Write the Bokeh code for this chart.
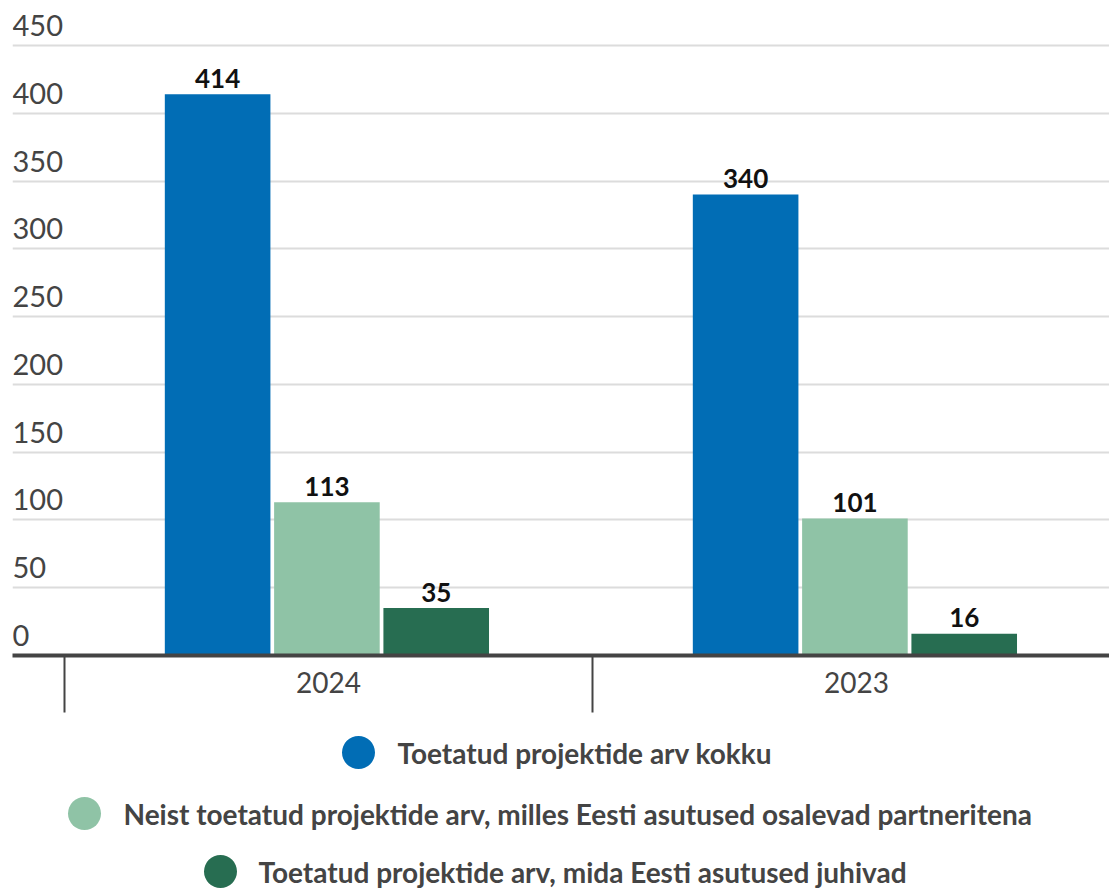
import numpy as np
from bokeh.plotting import figure
from bokeh.models import ColumnDataSource, FixedTicker, Range1d
from bokeh.layouts import column
from bokeh.core.properties import value
from bokeh.embed import file_html
from bokeh.resources import INLINE

# ---- data ----
categories = ["2024", "2023"]
series_names = [
    "Toetatud projektide arv kokku",
    "Neist toetatud projektide arv, milles Eesti asutused osalevad partneritena",
    "Toetatud projektide arv, mida Eesti asutused juhivad",
]
total_projects = [414, 340]
partner_projects = [113, 101]
lead_projects = [35, 16]
y_ticks = [0, 50, 100, 150, 200, 250, 300, 350, 400, 450]

colors = ["#016db5", "#8fc3a6", "#276d51"]
FONT = "Lato"
TEXT_GREY = "#444444"

# ---- layout ----
W = 1109
LEFT = 12
FRAME_H = 655
BOTTOM = 65
CHART_H = FRAME_H + BOTTOM
x_start = -52 / 528
x_end = (W - 64) / 528
px_per_unit = 610 / 450
y_end = 450 + 45 / px_per_unit

p = figure(width=W, height=CHART_H, output_backend="svg", toolbar_location=None,
           x_range=Range1d(x_start, x_end), y_range=Range1d(0, y_end),
           y_axis_location=None, min_border_left=LEFT, min_border_right=0,
           min_border_top=0, min_border_bottom=BOTTOM)
p.outline_line_color = None
p.xgrid.visible = False
p.ygrid.ticker = FixedTicker(ticks=y_ticks)
p.ygrid.grid_line_color = "#dcdcdc"
p.ygrid.grid_line_width = 2

xs = np.arange(len(categories)) + 0.5
offsets = [-0.21, -0.003, 0.204]
all_series = [total_projects, partner_projects, lead_projects]

for vals, col, off in zip(all_series, colors, offsets):
    src = ColumnDataSource(dict(x=xs + off, top=vals, label=[str(v) for v in vals]))
    p.vbar(x="x", top="top", width=0.2, source=src, fill_color=col, line_color=None)
    p.text(x="x", y="top", text="label", source=src, text_align="center",
           text_baseline="alphabetic", y_offset=-16, text_font=value(FONT),
           text_font_style="bold", text_font_size="26px", text_color="#111111")

# y tick labels sitting above gridlines
p.text(x=[x_start] * len(y_ticks), y=y_ticks, text=[str(t) for t in y_ticks],
       text_align="left", text_baseline="alphabetic", y_offset=-20,
       text_font=value(FONT), text_font_size="29px", text_color=TEXT_GREY)

ax = p.xaxis[0]
ax.ticker = FixedTicker(ticks=list(xs), minor_ticks=list(range(len(categories) + 1)))
ax.major_label_overrides = {float(x): c for x, c in zip(xs, categories)}
ax.major_tick_out = 0
ax.major_tick_in = 0
ax.minor_tick_out = 57
ax.minor_tick_in = 0
ax.minor_tick_line_width = 2
ax.minor_tick_line_color = TEXT_GREY
ax.axis_line_width = 4
ax.axis_line_color = TEXT_GREY
ax.major_label_standoff = -41
ax.major_label_text_font = FONT
ax.major_label_text_font_size = "28px"
ax.major_label_text_color = TEXT_GREY

# ---- legend (frame aligned with the chart's frame) ----
LEG_H = 889 - CHART_H
lg = figure(width=W, height=LEG_H, output_backend="svg", toolbar_location=None,
            x_range=Range1d(LEFT, W), y_range=Range1d(LEG_H, 0),
            x_axis_location=None, y_axis_location=None,
            min_border_left=LEFT, min_border_right=0, min_border_top=0, min_border_bottom=0)
lg.outline_line_color = None
lg.grid.visible = False
marker_x = [358, 84, 220]
text_x = [397, 123, 258]
row_y = [752 - CHART_H, 813 - CHART_H, 871 - CHART_H]
lg.scatter(x=marker_x, y=row_y, size=33, marker="circle", fill_color=colors, line_color=None)
lg.text(x=text_x, y=row_y, text=series_names, text_align="left", text_baseline="middle",
        text_font=value(FONT), text_font_style="bold", text_font_size="28px",
        text_color=TEXT_GREY)

layout = column(p, lg, spacing=0)
open("out.html", "w").write(file_html(layout, INLINE))
